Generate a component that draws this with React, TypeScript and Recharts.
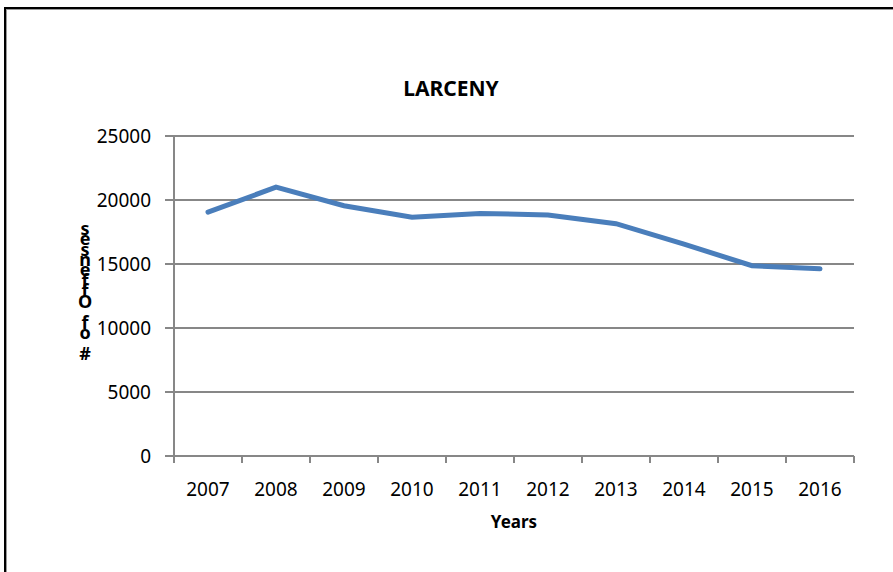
import React from "react";
import { LineChart, Line, XAxis, YAxis, CartesianGrid } from "recharts";

const years = [2007, 2008, 2009, 2010, 2011, 2012, 2013, 2014, 2015, 2016];
const larceny = [19050, 21000, 19550, 18650, 18950, 18830, 18150, 16550, 14870, 14620];
const yTicks = [0, 5000, 10000, 15000, 20000, 25000];
const chartTitle = "LARCENY";
const xTitle = "Years";
const yTitle = "# of Offenses";

const data = years.map((year, i) => ({ year, value: larceny[i] }));

// tick marks sit between the years, labels in the middle
const xTicks: number[] = [years[0] - 0.5];
years.forEach((y) => {
  xTicks.push(y);
  xTicks.push(y + 0.5);
});

const FONT = "'Noto Sans', 'Open Sans', sans-serif";
const GRID = "#878787";

function XTick(props: any) {
  const { x, y, payload } = props;
  if (Number.isInteger(payload.value)) {
    return (
      <text x={x} y={y + 40} textAnchor="middle" fontSize={19} fontFamily={FONT} fill="#000">
        {payload.value}
      </text>
    );
  }
  return <line x1={x} x2={x} y1={y} y2={y + 7} stroke={GRID} strokeWidth={2} />;
}

// the source chart stacks the letters of the axis title upwards, unrotated
function YLabel(props: any) {
  const { viewBox } = props;
  const chars = yTitle.split("");
  const cx = viewBox.x + 85;
  const bottom = 360;
  return (
    <text textAnchor="middle" fontSize={18} fontWeight="bold" fontFamily={FONT} fill="#000">
      {chars.map((c, i) => (
        <tspan key={i} x={cx} y={bottom - i * 10.45}>
          {c}
        </tspan>
      ))}
    </text>
  );
}

export default function App() {
  return (
    <div
      style={{
        position: "fixed",
        left: 0,
        top: 0,
        width: 893,
        height: 572,
        overflow: "hidden",
        background: "#fff",
      }}
    >
      <div
        style={{
          position: "absolute",
          left: 4,
          top: 7,
          width: 892,
          height: 600,
          border: "2px solid #000",
          boxShadow: "1px 1px 0 #999 inset",
        }}
      />
      <div
        style={{
          position: "absolute",
          left: 5,
          width: 892,
          top: 74,
          textAlign: "center",
          fontFamily: FONT,
          fontWeight: "bold",
          fontSize: 21,
        }}
      >
        {chartTitle}
      </div>
      <div style={{ position: "absolute", left: 0, top: 0 }}>
        <LineChart
          width={893}
          height={572}
          data={data}
          margin={{ top: 136, right: 39, left: 0, bottom: 36 }}
        >
          <CartesianGrid vertical={false} stroke={GRID} strokeWidth={2} />
          <XAxis
            dataKey="year"
            type="number"
            domain={[years[0] - 0.5, years[years.length - 1] + 0.5]}
            ticks={xTicks}
            interval={0}
            height={80}
            tickSize={0}
            tickMargin={0}
            tickLine={false}
            axisLine={{ stroke: GRID, strokeWidth: 2 }}
            tick={<XTick />}
            label={{
              value: xTitle,
              position: "insideBottom",
              offset: 8,
              fontFamily: FONT,
              fontWeight: "bold",
              fontSize: 17,
              fill: "#000",
            }}
          />
          <YAxis
            width={174}
            domain={[0, 25000]}
            ticks={yTicks}
            interval={0}
            tickSize={9}
            tickMargin={14}
            tickLine={{ stroke: GRID, strokeWidth: 2 }}
            axisLine={{ stroke: GRID, strokeWidth: 2 }}
            tick={{ fontSize: 19, fontFamily: FONT, fill: "#000" }}
            label={<YLabel />}
          />
          <Line
            dataKey="value"
            type="linear"
            stroke="#4A7EBB"
            strokeWidth={5}
            dot={false}
            strokeLinecap="round"
            isAnimationActive={false}
          />
        </LineChart>
      </div>
    </div>
  );
}
